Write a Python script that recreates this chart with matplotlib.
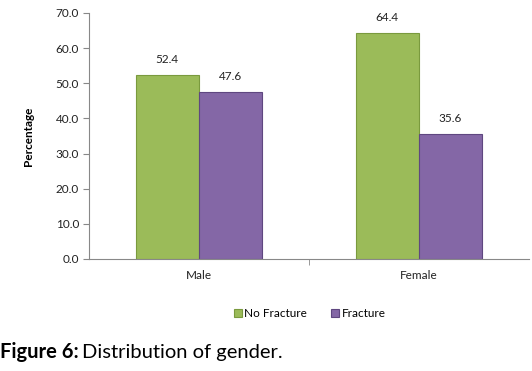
import matplotlib
matplotlib.use("Agg")
import matplotlib.pyplot as plt
import numpy as np

categories = ["Male", "Female"]
no_fracture = [52.4, 64.4]
fracture = [47.6, 35.6]
series_names = ["No Fracture", "Fracture"]
yticks = [0, 10, 20, 30, 40, 50, 60, 70]

plt.rcParams['font.family'] = ['Lato', 'DejaVu Sans']

fig = plt.figure(figsize=(5.32, 3.71), dpi=100)
ax = fig.add_axes([0.167, 0.302, 0.827, 0.663])

x = np.arange(len(categories))
w = 0.286
green = "#9bbb59"
purple = "#8467a6"
b1 = ax.bar(x - 0.144, no_fracture, w, color=green, edgecolor="#7a9a3e", linewidth=0.8, label=series_names[0])
b2 = ax.bar(x + 0.144, fracture, w, color=purple, edgecolor="#5f4780", linewidth=0.8, label=series_names[1])

for bars, vals in ((b1, no_fracture), (b2, fracture)):
    for r, v in zip(bars, vals):
        ax.text(r.get_x() + r.get_width() / 2, v + 2.8, f"{v:.1f}", ha="center", va="bottom",
                fontsize=8.5, color="#222222")

ax.set_xlim(-0.5, 1.5)
ax.set_ylim(0, 70)
ax.set_yticks(yticks)
ax.set_yticklabels([f"{t:.1f}" for t in yticks], fontsize=8.5, color="#222222")
ax.set_xticks(x)
ax.set_xticklabels(categories, fontsize=8.5, color="#222222")
ax.tick_params(axis='x', length=0, pad=8)
ax.set_xticks([0.5], minor=True)
ax.tick_params(axis='x', which='minor', length=4, color="#888888")
ax.tick_params(axis='y', length=4, color="#888888", pad=3)
for s in ("top", "right"):
    ax.spines[s].set_visible(False)
for s in ("left", "bottom"):
    ax.spines[s].set_color("#888888")
    ax.spines[s].set_linewidth(0.8)

ax.set_ylabel("Percentage", fontsize=8.5, fontweight="bold", labelpad=16)

fig.legend(handles=[b1, b2], labels=series_names, loc="center", bbox_to_anchor=(0.582, 0.155),
           ncol=2, frameon=False, fontsize=8.5, handlelength=0.7, handleheight=0.7,
           handletextpad=0.2, columnspacing=2.0)

t1 = fig.text(0.0, 0.05, "Figure 6:", fontsize=14.5, fontweight="bold", ha="left", va="center")
fig.canvas.draw()
bb = t1.get_window_extent()
fig.text(bb.x1 / fig.bbox.width + 0.006, 0.05, "Distribution of gender.", fontsize=14.5,
         ha="left", va="center")

fig.savefig("out.png", dpi=100)
